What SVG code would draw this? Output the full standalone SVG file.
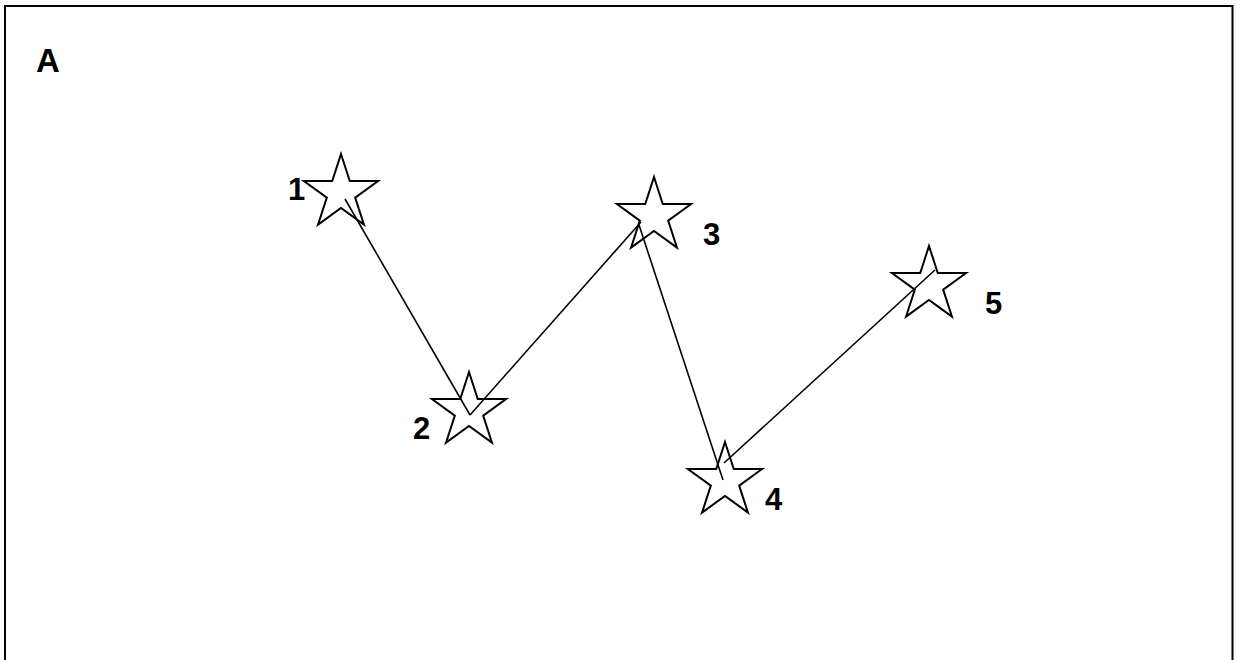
<svg xmlns="http://www.w3.org/2000/svg" xmlns:xlink="http://www.w3.org/1999/xlink" width="1236" height="660" viewBox="0 0 1236 660">
<style>
.star{fill:none;stroke:#000;stroke-width:2;stroke-linejoin:miter}
.conn line{stroke:#000;stroke-width:1.6}
.lbl{font-family:"Liberation Sans",Arial,sans-serif;font-weight:bold;font-size:31px;fill:#000}
</style>
<defs>
<path id="starShape" class="star" d="M0,-39 L8.76,-12.05 L37.09,-12.05 L14.17,4.6 L22.92,31.55 L0,14.9 L-22.92,31.55 L-14.17,4.6 L-37.09,-12.05 L-8.76,-12.05 Z"/>
</defs>
<rect width="1236" height="660" fill="#fff"/>
<path d="M5,662 L5,6 L1232.5,6 L1232.5,662" fill="none" stroke="#000" stroke-width="2"/>
<text class="lbl" x="36" y="72" style="font-size:33px">A</text>
<g id="connectors" class="conn">
<line x1="345" y1="199" x2="470" y2="415"/>
<line x1="470" y1="415" x2="641" y2="222"/>
<line x1="639" y1="225" x2="723" y2="480"/>
<line x1="724" y1="463" x2="935" y2="270"/>
</g>
<g id="node1"><use xlink:href="#starShape" href="#starShape" x="341" y="193"/><text class="lbl" x="288" y="200">1</text></g>
<g id="node2"><use xlink:href="#starShape" href="#starShape" x="469" y="411"/><text class="lbl" x="413" y="439">2</text></g>
<g id="node3"><use xlink:href="#starShape" href="#starShape" x="654" y="216"/><text class="lbl" x="703" y="245">3</text></g>
<g id="node4"><use xlink:href="#starShape" href="#starShape" x="725" y="481"/><text class="lbl" x="765" y="510">4</text></g>
<g id="node5"><use xlink:href="#starShape" href="#starShape" x="929" y="285"/><text class="lbl" x="985" y="314">5</text></g>
</svg>
